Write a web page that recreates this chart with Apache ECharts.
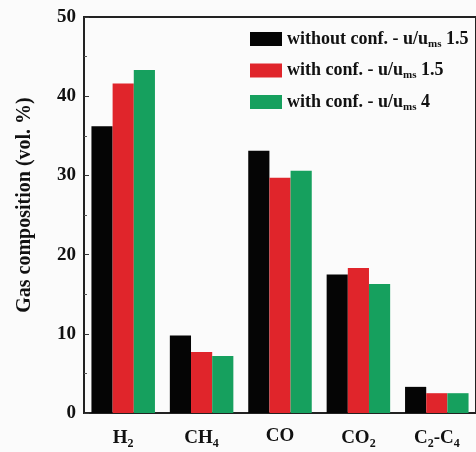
<!DOCTYPE html>
<html>
<head>
<meta charset="utf-8">
<script src="https://cdn.jsdelivr.net/npm/echarts@6/dist/echarts.min.js"></script>
<style>
  html, body { margin: 0; padding: 0; background: #fbfbfb; }
  #chart { width: 476px; height: 452px; }
</style>
</head>
<body>
<div id="chart"></div>
<script>
// Product gas composition per species, three operating conditions
const categories = ['H2', 'CH4', 'CO', 'CO2', 'C2-C4'];
const withoutConf15 = [36.2, 9.8, 33.1, 17.5, 3.3];
const withConf15 = [41.6, 7.7, 29.7, 18.3, 2.5];
const withConf4 = [43.3, 7.2, 30.6, 16.3, 2.5];
const yTicks = [0, 10, 20, 30, 40, 50];

const serif = '"Liberation Serif", "DejaVu Serif", serif';

// Category label with subscripted digits
const labelRich = {
  n: { fontFamily: serif, fontWeight: 'bold', fontSize: 19, color: '#111' },
  s: { fontFamily: serif, fontWeight: 'bold', fontSize: 12, color: '#111', padding: [11, 0, 0, 0] }
};
function subscriptLabel(text) {
  return text.replace(/(\d+)/g, '}{s|$1}{n|').replace(/^/, '{n|').replace(/$/, '}').replace(/\{n\|\}/g, '');
}

const legendRich = {
  n: { fontFamily: serif, fontWeight: 'bold', fontSize: 18, color: '#111' },
  s: { fontFamily: serif, fontWeight: 'bold', fontSize: 11, color: '#111', padding: [10, 0, 0, 0] }
};
const legendText = {
  'without conf. 1.5': '{n|without conf. - u/u}{s|ms}{n| 1.5}',
  'with conf. 1.5': '{n|with conf. - u/u}{s|ms}{n| 1.5}',
  'with conf. 4': '{n|with conf. - u/u}{s|ms}{n| 4}'
};

const chart = echarts.init(document.getElementById('chart'));
chart.setOption({
  animation: false,
  backgroundColor: '#fbfbfb',
  grid: {
    left: 84, top: 17, width: 398, height: 396,
    show: true, borderColor: '#222', borderWidth: 2, backgroundColor: 'transparent'
  },
  legend: {
    orient: 'vertical',
    left: 250, top: 30, padding: 0,
    itemWidth: 32, itemHeight: 14, itemGap: 12,
    icon: 'rect',
    formatter: name => legendText[name],
    textStyle: { rich: legendRich }
  },
  xAxis: {
    type: 'category',
    data: categories,
    axisLine: { lineStyle: { color: '#222', width: 2 } },
    axisTick: { show: false },
    axisLabel: {
      interval: 0,
      margin: 14,
      formatter: v => subscriptLabel(v),
      rich: labelRich
    }
  },
  yAxis: {
    type: 'value',
    min: yTicks[0], max: yTicks[yTicks.length - 1], interval: 10,
    name: 'Gas composition (vol. %)',
    nameLocation: 'middle',
    nameGap: 49,
    nameTextStyle: {
      fontFamily: serif, fontWeight: 'bold', fontSize: 20, color: '#111',
      padding: [0, 0, 0, 20]
    },
    axisLine: { show: true, lineStyle: { color: '#222', width: 2 } },
    axisTick: { show: true, inside: true, length: 5, lineStyle: { color: '#333' } },
    minorTick: { show: true, splitNumber: 2, length: 3, lineStyle: { color: '#555' } },
    splitLine: { show: false },
    axisLabel: {
      margin: 8,
      fontFamily: serif, fontWeight: 'bold', fontSize: 19, color: '#111'
    }
  },
  series: [
    { name: 'without conf. 1.5', type: 'bar', data: withoutConf15, itemStyle: { color: '#050505' },
      barGap: '0%', barCategoryGap: '19%' },
    { name: 'with conf. 1.5', type: 'bar', data: withConf15, itemStyle: { color: '#e0252b' },
      barGap: '0%', barCategoryGap: '19%' },
    { name: 'with conf. 4', type: 'bar', data: withConf4, itemStyle: { color: '#16a05e' },
      barGap: '0%', barCategoryGap: '19%' }
  ]
});
</script>
</body>
</html>
